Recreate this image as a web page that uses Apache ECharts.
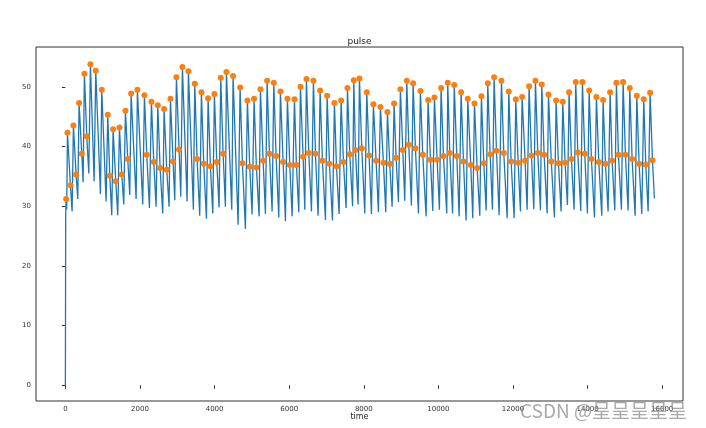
<!DOCTYPE html>
<html>
<head>
<meta charset="utf-8">
<script src="https://cdn.jsdelivr.net/npm/echarts@6/dist/echarts.min.js"></script>
<style>
html,body{margin:0;padding:0;background:#fff;}
#chart{width:706px;height:428px;}
</style>
</head>
<body>
<div id="chart"></div>
<script>
// ---- data ----
const startTime = [0, 8];
const startValue = [0, 28.5];
const endTime = [15792];
const endValue = [31.3];

const peakTime = [55,215,367,510,671,814,975,1136,1279,1449,1610,1762,1931,2119,2307,2477,
  2646,2816,2977,3137,3298,3468,3647,3826,3995,4165,4317,4496,4684,4880,5059,
  5229,5408,5587,5765,5953,6141,6302,6462,6650,6829,7017,7213,7392,7562,7732,
  7883,8080,8258,8446,8634,8812,8982,9152,9322,9518,9724,9894,10073,10251,10425,
  10609,10788,10967,11154,11324,11494,11691,11887,12075,12245,12432,12602,12772,12951,
  13156,13335,13504,13683,13862,14041,14237,14416,14604,14773,14952,15131,15319,15506,15676];
const peakValue = [42.3,43.5,47.3,52.2,53.8,52.7,49.5,45.3,42.9,43.2,46.0,48.9,49.5,48.6,47.5,46.9,
  46.3,48.0,51.6,53.3,52.6,50.5,49.1,48.1,48.8,51.5,52.5,51.8,49.9,47.7,48.0,
  49.6,51.0,50.7,49.2,48.0,47.9,50.0,51.3,51.0,49.4,48.5,47.3,47.7,49.8,51.1,
  51.4,49.1,47.1,46.6,45.8,47.2,49.6,51.0,50.6,49.3,47.8,48.2,49.8,50.7,50.3,
  49.1,48.0,47.2,48.4,50.6,51.6,51.0,49.2,47.9,48.3,50.1,51.0,50.4,48.7,
  47.7,47.5,49.1,50.8,50.8,49.4,48.3,47.8,49.1,50.7,50.8,49.8,48.5,47.9,49.0];

const minorTime = [19,135,287,439,573,1190,1350,1511,1672,2182,2369,2539,
  2717,2887,3048,3531,3709,3888,4058,4228,4746,4943,5121,
  5301,5470,5649,5837,6016,6194,6373,6525,6704,6891,7079,7267,7455,7624,7776,
  7946,8142,8330,8526,8696,8866,9045,9206,9384,9581,9787,9965,10135,10305,
  10493,10672,10868,11038,11217,11387,11557,11753,11950,12138,12325,12495,12665,12835,13027,
  13218,13397,13567,13737,13924,14103,14300,14479,14657,14827,15015,15194,15381,15560,15739];
const minorValue = [31.2,33.5,35.3,38.8,41.7,35.1,34.2,35.3,37.9,38.6,37.4,36.4,
  36.1,37.5,39.5,37.9,37.1,36.7,37.4,38.8,37.2,36.6,36.5,
  37.6,38.8,38.4,37.4,36.9,36.9,38.3,38.9,38.8,37.6,37.1,36.7,37.4,38.7,39.4,
  39.7,38.5,37.6,37.3,37.1,38.1,39.4,40.3,39.7,38.6,37.8,37.8,38.4,38.9,
  38.4,37.5,36.9,36.4,37.2,38.7,39.3,38.9,37.5,37.3,37.6,38.5,38.9,38.6,37.5,
  37.2,37.3,37.9,39.0,38.8,37.9,37.4,37.1,37.6,38.6,38.6,37.9,37.1,37.0,37.7];

const troughTime = [35,180,332,475,627,770,939,1091,1243,1404,1565,1726,1896,2074,2253,2432,
  2610,2780,2932,3093,3263,3432,3602,3781,3951,4120,4290,4460,4630,4826,5005,
  5193,5363,5542,5721,5899,6078,6257,6418,6597,6775,6972,7160,7338,7526,7700,
  7847,8026,8205,8392,8589,8759,8929,9098,9277,9465,9670,9849,10028,10224,10381,
  10556,10743,10922,11110,11280,11449,11628,11843,12030,12200,12379,12558,12736,12915,
  13111,13290,13460,13638,13817,13996,14184,14380,14550,14729,14907,15086,15274,15453,15623];
const troughValue = [29.5,29.1,31.2,34.0,35.5,34.2,32.0,30.8,28.5,28.5,30.3,31.9,31.2,30.3,29.7,29.9,
  28.8,29.9,31.0,31.6,30.8,29.4,28.4,27.9,28.8,29.8,29.9,29.4,26.9,26.2,28.6,
  28.3,28.7,29.1,28.1,27.5,28.3,29.0,29.4,29.1,28.4,27.7,27.6,28.7,29.7,30.0,
  30.3,28.8,28.7,29.0,29.0,29.9,30.7,30.9,30.1,28.8,28.3,29.2,29.4,28.8,28.8,
  28.3,27.6,28.0,28.4,29.3,29.4,28.5,28.0,28.0,29.1,29.4,29.5,29.3,28.8,
  28.1,29.1,30.2,29.4,29.2,28.8,28.1,28.4,29.1,29.3,29.4,29.3,28.4,28.7,29.1];

const xTicks = [0,2000,4000,6000,8000,10000,12000,14000,16000];
const yTicks = [0,10,20,30,40,50];

// ---- build series ----
function zip(t, v){ return t.map((x,i)=>[x, v[i]]); }
const linePts = [].concat(zip(startTime,startValue), zip(troughTime,troughValue),
  zip(peakTime,peakValue), zip(minorTime,minorValue), zip(endTime,endValue))
  .sort((a,b)=>a[0]-b[0]);
const dotPts = [].concat(zip(peakTime,peakValue), zip(minorTime,minorValue))
  .sort((a,b)=>a[0]-b[0]);

const chart = echarts.init(document.getElementById('chart'), null, {renderer:'canvas'});
const font = 'DejaVu Sans';
chart.setOption({
  animation:false,
  backgroundColor:'#fff',
  grid:{left:36, right:23, top:47, bottom:27, show:true, borderColor:'#333', borderWidth:1, backgroundColor:'transparent'},
  xAxis:{type:'value', min:-788, max:16558, splitLine:{show:false},
    axisLine:{show:false},
    axisTick:{show:true, length:3.5, lineStyle:{color:'#333'}, customValues:xTicks},
    axisLabel:{fontSize:7, color:'#333', fontFamily:font, margin:5, customValues:xTicks,
      showMinLabel:true, showMaxLabel:true, hideOverlap:false,
      formatter:function(v){return String(v);}}
  },
  yAxis:{type:'value', min:-2.63, max:56.67, splitLine:{show:false},
    axisLine:{show:false},
    axisTick:{show:true, length:3.5, lineStyle:{color:'#333'}, customValues:yTicks},
    axisLabel:{fontSize:7, color:'#333', fontFamily:font, margin:5, customValues:yTicks,
      formatter:function(v){return String(v);}}
  },
  series:[
    {type:'line', data:linePts, showSymbol:false, symbol:'none',
      lineStyle:{color:'#1f77b4', width:1.3}, z:2},
    {type:'scatter', data:dotPts, symbol:'circle', symbolSize:6,
      itemStyle:{color:'#ff7f0e', opacity:1}, z:3}
  ],
  graphic:[
    {type:'text', x:359.5, y:37, style:{text:'pulse', fill:'#222', font:'9px DejaVu Sans', textAlign:'center'}},
    {type:'text', x:359.5, y:413, style:{text:'time', fill:'#222', font:'8px DejaVu Sans', textAlign:'center'}},
    {type:'text', x:520, y:401, z:100, style:{text:'CSDN @呈呈呈呈呈', fill:'rgba(140,140,140,0.75)',
      font:'19px "Noto Sans CJK SC", "DejaVu Sans"', textAlign:'left'}}
  ]
});
</script>
</body>
</html>
